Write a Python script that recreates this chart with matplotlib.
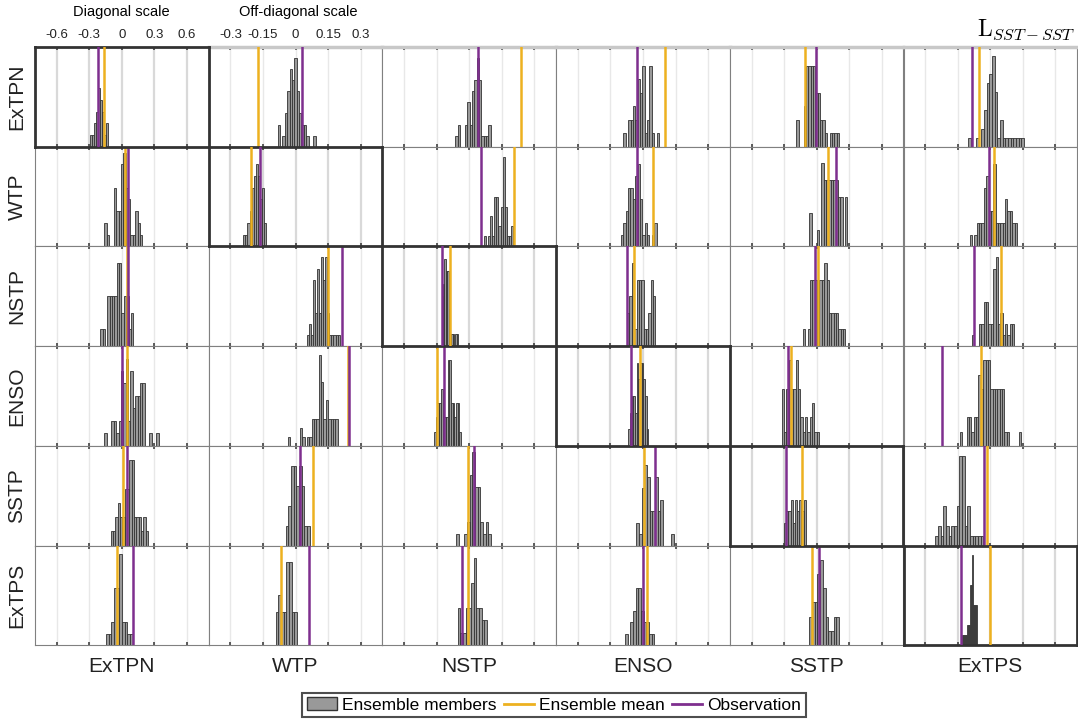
import numpy as np
import matplotlib.pyplot as plt
from matplotlib.patches import Patch
from matplotlib.lines import Line2D

plt.rcParams['font.family'] = ['Liberation Sans', 'DejaVu Sans']

# regions (rows and columns of the matrix)
regions = ['ExTPN', 'WTP', 'NSTP', 'ENSO', 'SSTP', 'ExTPS']
diag_ticks = [-0.6, -0.3, 0, 0.3, 0.6]
diag_labels = ['-0.6', '-0.3', '0', '0.3', '0.6']
off_ticks = [-0.3, -0.15, 0, 0.15, 0.3]
off_labels = ['-0.3', '-0.15', '0', '0.15', '0.3']

# ensemble mean (orange) per panel [row][col]
ens_mean = [
    [-0.164, -0.174, 0.238, 0.102, -0.054, -0.051],
    [0.013, -0.410, 0.205, 0.048, 0.053, 0.016],
    [0.026, 0.151, -0.177, -0.040, 0.008, 0.047],
    [0.0255, 0.243, -0.147, -0.030, -0.120, -0.044],
    [0.0055, 0.079, -0.004, 0.003, -0.133, -0.017],
    [-0.0235, -0.069, -0.004, 0.018, -0.021, -0.006],
]
# observation (purple) per panel
obs = [
    [-0.220, 0.032, 0.040, -0.029, -0.002, -0.083],
    [0.0285, -0.325, 0.052, -0.026, 0.087, -0.007],
    [0.0285, 0.214, -0.250, -0.073, -0.008, -0.077],
    [-0.001, 0.247, -0.117, -0.110, -0.134, -0.224],
    [0.024, 0.020, 0.024, 0.055, -0.282, -0.028],
    [0.0525, 0.063, -0.032, 0.000, 0.013, -0.273],
]
# histogram of ensemble members: first bin edge, bin width, counts
bin_start = [
    [-0.295, -0.082, -0.064, -0.090, -0.093, -0.103],
    [-0.0805, -0.481, 0.068, -0.101, -0.033, -0.0955],
    [-0.100, 0.051, -0.253, -0.073, -0.0636, -0.085],
    [-0.0805, -0.035, -0.162, -0.135, -0.161, -0.142],
    [-0.052, -0.045, -0.059, -0.031, -0.300, -0.254],
    [-0.0735, -0.091, -0.053, -0.083, -0.033, -0.258],
]
bin_width = [
    [0.0187, 0.0109, 0.0109, 0.0109, 0.0109, 0.0123],
    [0.0109, 0.0190, 0.0095, 0.0109, 0.0109, 0.0109],
    [0.0109, 0.0095, 0.0125, 0.0109, 0.0109, 0.0109],
    [0.0109, 0.0109, 0.0078, 0.0153, 0.0107, 0.0109],
    [0.0108, 0.0123, 0.0123, 0.0123, 0.0200, 0.0123],
    [0.0123, 0.0123, 0.0123, 0.0123, 0.0123, 0.0092],
]
counts = [
    [[1, 1, 2, 3, 5, 4, 3, 1, 2],
     [2, 0, 1, 3, 5, 7, 6, 8, 5, 3, 2, 2, 1, 0, 0, 1],
     [1, 2, 0, 0, 2, 4, 2, 5, 6, 8, 6, 1, 1, 1, 2],
     [1, 0, 2, 2, 3, 2, 5, 4, 6, 1, 2, 6, 1, 0, 1],
     [2, 0, 0, 3, 6, 6, 6, 6, 4, 4, 2, 2, 1, 0, 1, 1, 1, 1],
     [1, 0, 0, 1, 0, 2, 4, 7, 8, 10, 6, 1, 3, 1, 1, 1, 1, 1, 1, 1, 1]],
    [[2, 1, 0, 0, 5, 3, 3, 7, 8, 5, 4, 1, 1, 3, 2, 1],
     [1, 1, 2, 3, 5, 6, 7, 6, 4, 5, 2],
     [1, 0, 1, 3, 1, 5, 5, 2, 4, 9, 4, 1, 1, 2],
     [1, 2, 3, 5, 5, 4, 6, 7, 4, 1, 2, 1, 0, 1, 2],
     [2, 0, 0, 1, 0, 5, 4, 4, 4, 4, 4, 4, 3, 3, 0, 3],
     [1, 0, 1, 2, 2, 2, 5, 6, 3, 3, 7, 2, 2, 2, 2, 4, 3, 3, 2, 2]],
    [[1, 1, 0, 3, 3, 3, 3, 5, 5, 2, 3, 3, 1, 2],
     [1, 2, 1, 6, 3, 7, 3, 8, 6, 8, 3, 1, 1, 1, 1, 1],
     [4, 5, 7, 6, 6, 3, 1, 1, 1, 0, 1, 1],
     [2, 3, 5, 1, 4, 4, 4, 1, 1, 2, 4, 3],
     [1, 0, 1, 4, 4, 4, 4, 4, 4, 5, 4, 2, 2, 2, 2, 1, 1, 1],
     [1, 0, 0, 2, 2, 4, 4, 2, 2, 7, 8, 2, 3, 1, 2, 1, 2, 2]],
    [[1, 0, 0, 2, 2, 1, 2, 6, 5, 7, 2, 6, 3, 4, 4, 5, 5, 0, 0, 1, 0, 0, 1],
     [1, 0, 0, 0, 0, 2, 1, 0, 1, 1, 3, 3, 3, 10, 7, 3, 5, 3, 3, 3, 3],
     [1, 2, 3, 3, 4, 3, 2, 2, 6, 6, 3, 3, 2, 3, 3, 1],
     [1, 2, 3, 3, 2, 5, 4, 5, 5, 4, 3, 1],
     [4, 1, 4, 6, 4, 4, 6, 4, 2, 1, 2, 1, 2, 3, 1, 1],
     [1, 0, 0, 2, 2, 1, 2, 2, 5, 4, 6, 6, 6, 4, 4, 4, 4, 4, 4, 1, 1, 0, 0, 0, 0, 1]],
    [[1, 1, 2, 3, 2, 2, 4, 4, 6, 6, 2, 2, 2, 1, 2, 1],
     [1, 2, 4, 4, 3, 4, 3, 1, 1],
     [1, 0, 0, 1, 2, 6, 8, 5, 5, 2, 1, 2, 1],
     [2, 1, 5, 7, 6, 3, 3, 6, 3, 4, 0, 0, 0, 1],
     [2, 3, 3, 4, 2, 4, 3, 4, 3, 4],
     [1, 2, 1, 4, 2, 1, 2, 2, 4, 9, 9, 2, 4, 1, 1, 1, 1, 1]],
    [[1, 1, 2, 5, 5, 8, 2, 2, 1, 1],
     [2, 3, 2, 2, 5, 5, 2, 2],
     [3, 1, 1, 3, 3, 5, 7, 3, 3, 2, 2],
     [1, 0, 2, 3, 5, 5, 3, 2, 2, 1, 1],
     [2, 3, 3, 5, 6, 4, 2, 1, 1, 2, 2],
     [1, 1, 1, 1, 1, 2, 2, 2, 6, 6, 9, 4, 4, 4, 4]],
]
ymax = [
    [8.5, 9, 9, 7.4, 7.4, 11],
    [8.5, 8.5, 10, 8.5, 6, 8.5],
    [6, 9, 8, 6, 6, 9],
    [8, 11, 7, 6, 7, 7],
    [7, 5, 8.5, 8.7, 8.7, 10],
    [8.7, 6, 8, 8.7, 7, 10],
]

ORANGE = '#EDB120'
PURPLE = '#7E2F8E'
W, H = 1078, 723
x0, y0, pw, ph = 35, 47, 173.7, 99.7

fig = plt.figure(figsize=(W / 100, H / 100), dpi=100)

order = [(r, c) for r in range(6) for c in range(6) if r != c] + [(i, i) for i in range(6)]
for r, c in order:
    diag = r == c
    ax = fig.add_axes([(x0 + c * pw) / W, 1 - (y0 + (r + 1) * ph) / H, pw / W, ph / H],
                      zorder=3 if diag else 1)
    lim = 0.8 if diag else 0.4
    ax.set_xlim(-lim, lim)
    ax.set_ylim(0, ymax[r][c])
    ax.set_xticks(diag_ticks if diag else off_ticks)
    ax.set_yticks([])
    if diag:
        ax.grid(axis='x', color='#d9d9d9', lw=1.6)
    else:
        ax.grid(axis='x', color='#e8e8e8', lw=1.0)
    ax.set_axisbelow(True)
    ax.tick_params(axis='x', direction='in', length=2.5, width=1.2, color='#404040',
                   top=True, bottom=True, labelbottom=False, labeltop=False)

    n = np.array(counts[r][c])
    edges = bin_start[r][c] + bin_width[r][c] * np.arange(len(n))
    keep = n > 0
    ax.bar(edges[keep], n[keep], width=bin_width[r][c], align='edge',
           color='#999999', edgecolor='#333333', linewidth=0.6, zorder=2)
    ax.axvline(ens_mean[r][c], color=ORANGE, lw=1.8, zorder=3)
    ax.axvline(obs[r][c], color=PURPLE, lw=1.8, zorder=4)

    for s in ax.spines.values():
        if diag:
            s.set_color('#333333')
            s.set_linewidth(2.0)
        else:
            s.set_color('#808080')
            s.set_linewidth(0.8)
    if r == 0 and not diag:
        ax.spines['top'].set_color('#c8c8c8')
        ax.spines['top'].set_linewidth(2.5)

    if r == 0 and c in (0, 1):
        ax.tick_params(axis='x', labeltop=True, labelsize=9.5, pad=4, labelcolor='#222222')
        ax.set_xticklabels(diag_labels if diag else off_labels)

for i, name in enumerate(regions):
    fig.text((x0 + (i + 0.5) * pw) / W, 1 - 666 / H, name, ha='center', va='center',
             fontsize=15, color='#222222')
    fig.text(17 / W, 1 - (y0 + (i + 0.5) * ph) / H, name, rotation=90, ha='center',
             va='center', fontsize=15, color='#222222')

fig.text(121 / W, 1 - 12 / H, 'Diagonal scale', ha='center', va='center', fontsize=10.5)
fig.text(298 / W, 1 - 12 / H, 'Off-diagonal scale', ha='center', va='center', fontsize=10.5)
fig.text(1075 / W, 1 - 30 / H, r'$\mathrm{L}_{SST-SST}$', ha='right', va='center',
         fontsize=17, math_fontfamily='cm')

handles = [Patch(facecolor='#999999', edgecolor='#333333', label='Ensemble members'),
           Line2D([], [], color=ORANGE, lw=2, label='Ensemble mean'),
           Line2D([], [], color=PURPLE, lw=2, label='Observation')]
leg = fig.legend(handles=handles, loc='center', bbox_to_anchor=(554 / W, 1 - 705 / H),
                 ncol=3, frameon=True, fancybox=False, edgecolor='#222222', fontsize=12.5,
                 handlelength=1.75, handletextpad=0.3, columnspacing=0.4, borderpad=0.25,
                 borderaxespad=0)
leg.get_frame().set_linewidth(1.5)

plt.savefig('out.png', dpi=100)
